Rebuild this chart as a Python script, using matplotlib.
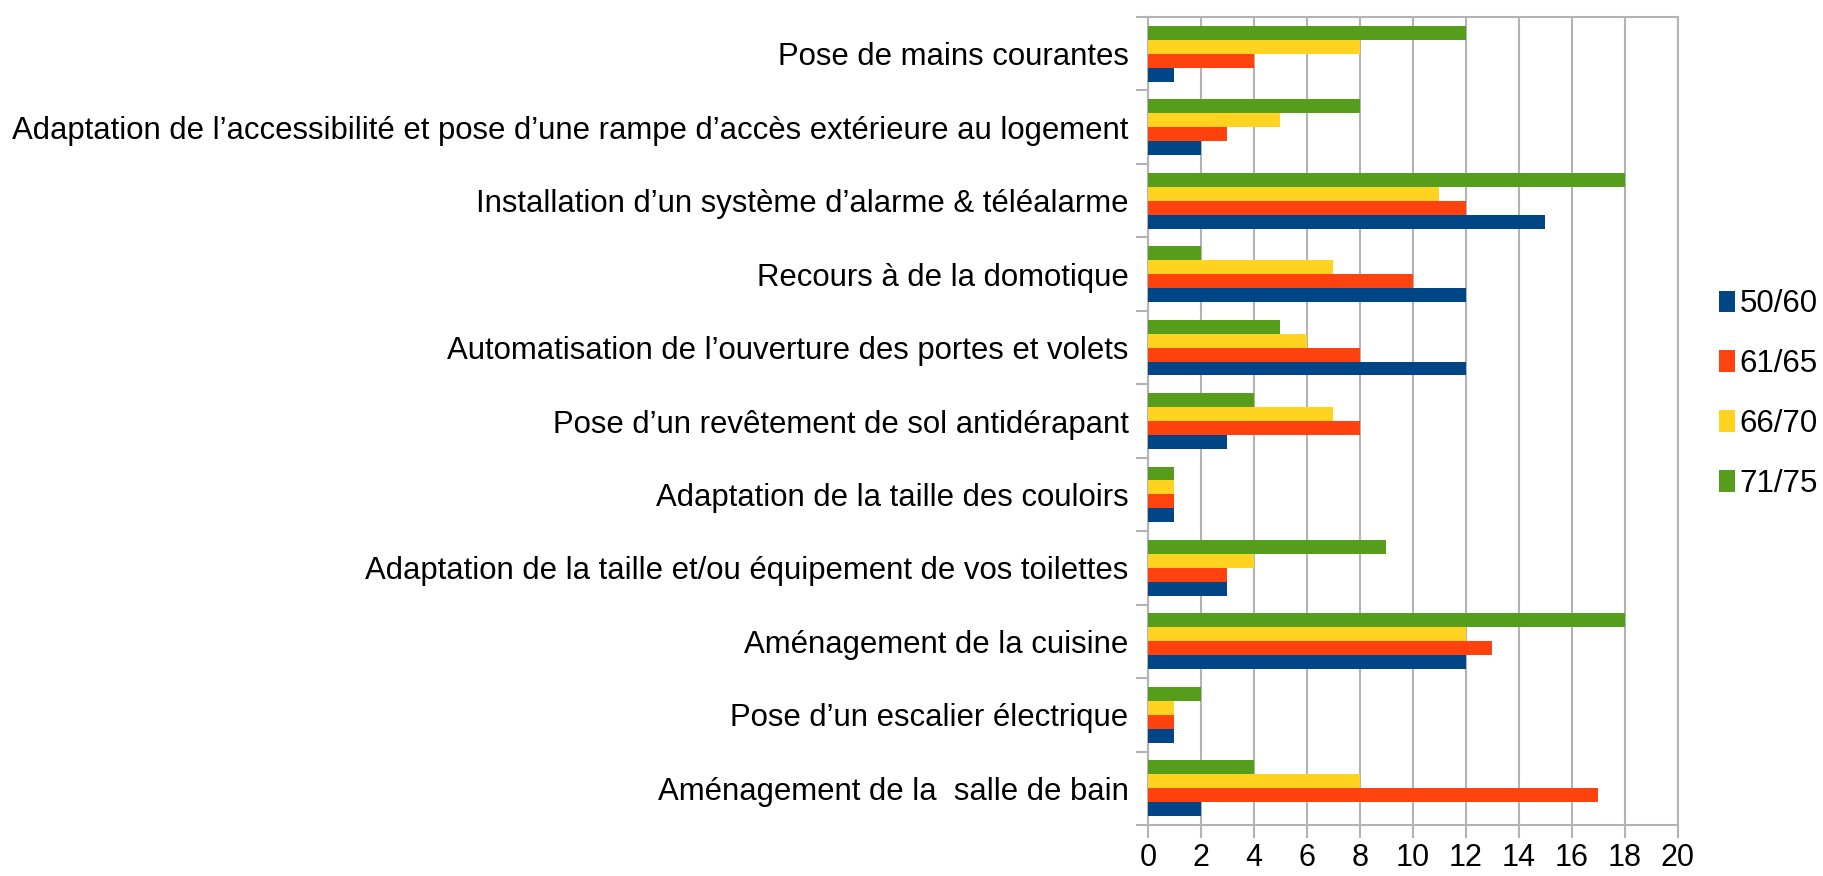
import matplotlib
matplotlib.use("Agg")
import matplotlib.pyplot as plt
from matplotlib.patches import Patch
import numpy as np

# categories listed top to bottom, as in the picture
categories = [
    "Pose de mains courantes",
    "Adaptation de l\u2019accessibilité et pose d\u2019une rampe d\u2019accès extérieure au logement",
    "Installation d\u2019un système d\u2019alarme & téléalarme",
    "Recours à de la domotique",
    "Automatisation de l\u2019ouverture des portes et volets",
    "Pose d\u2019un revêtement de sol antidérapant",
    "Adaptation de la taille des couloirs",
    "Adaptation de la taille et/ou équipement de vos toilettes",
    "Aménagement de la cuisine",
    "Pose d\u2019un escalier électrique",
    "Aménagement de la  salle de bain",
]
series = ["50/60", "61/65", "66/70", "71/75"]
v_50_60 = [1, 2, 15, 12, 12, 3, 1, 3, 12, 1, 2]
v_61_65 = [4, 3, 12, 10, 8, 8, 1, 3, 13, 1, 17]
v_66_70 = [8, 5, 11, 7, 6, 7, 1, 4, 12, 1, 8]
v_71_75 = [12, 8, 18, 2, 5, 4, 1, 9, 18, 2, 4]
colors = ["#004586", "#ff420e", "#ffd320", "#579d1c"]
x_ticks = list(range(0, 21, 2))

plt.rcParams["font.family"] = ["Liberation Sans", "DejaVu Sans"]

fig = plt.figure(figsize=(18.24, 8.76), dpi=100)
ax = fig.add_axes([1148 / 1824, 1 - 825 / 876, (1678 - 1148) / 1824, (825 - 17) / 876])

n = len(categories)
pos = np.arange(n)[::-1]  # first category on top
bh = 0.19
for i, (vals, col) in enumerate(zip([v_50_60, v_61_65, v_66_70, v_71_75], colors)):
    ax.barh(pos + (i - 1.5) * bh, vals, height=bh, color=col, label=series[i], zorder=3)

ax.set_xlim(0, 20)
ax.set_ylim(-0.5, n - 0.5)
ax.set_xticks(x_ticks)
ax.set_xticklabels([str(t) for t in x_ticks], fontsize=22)
ax.set_yticks(pos)
ax.set_yticklabels(categories, fontsize=22.4)
ax.tick_params(axis="y", which="major", length=0, pad=14)
ax.set_yticks(np.arange(n + 1) - 0.5, minor=True)
ax.tick_params(axis="y", which="minor", length=9, color="#b3b3b3", width=1.5)
ax.tick_params(axis="x", length=9, color="#b3b3b3", width=1.5, pad=4)
ax.grid(axis="x", color="#b3b3b3", linewidth=1.5, zorder=0)
for s in ax.spines.values():
    s.set_color("#b3b3b3")
    s.set_linewidth(1.5)

handles = [Patch(facecolor=c, label=s) for c, s in zip(colors, series)]
fig.legend(handles=handles, loc="center left", bbox_to_anchor=(1719 / 1824, 1 - 394 / 876),
           frameon=False, fontsize=22.5, handlelength=0.5, handleheight=0.7,
           handletextpad=0.15, labelspacing=0.95, borderpad=0, borderaxespad=0)

fig.savefig("out.png", dpi=100)
